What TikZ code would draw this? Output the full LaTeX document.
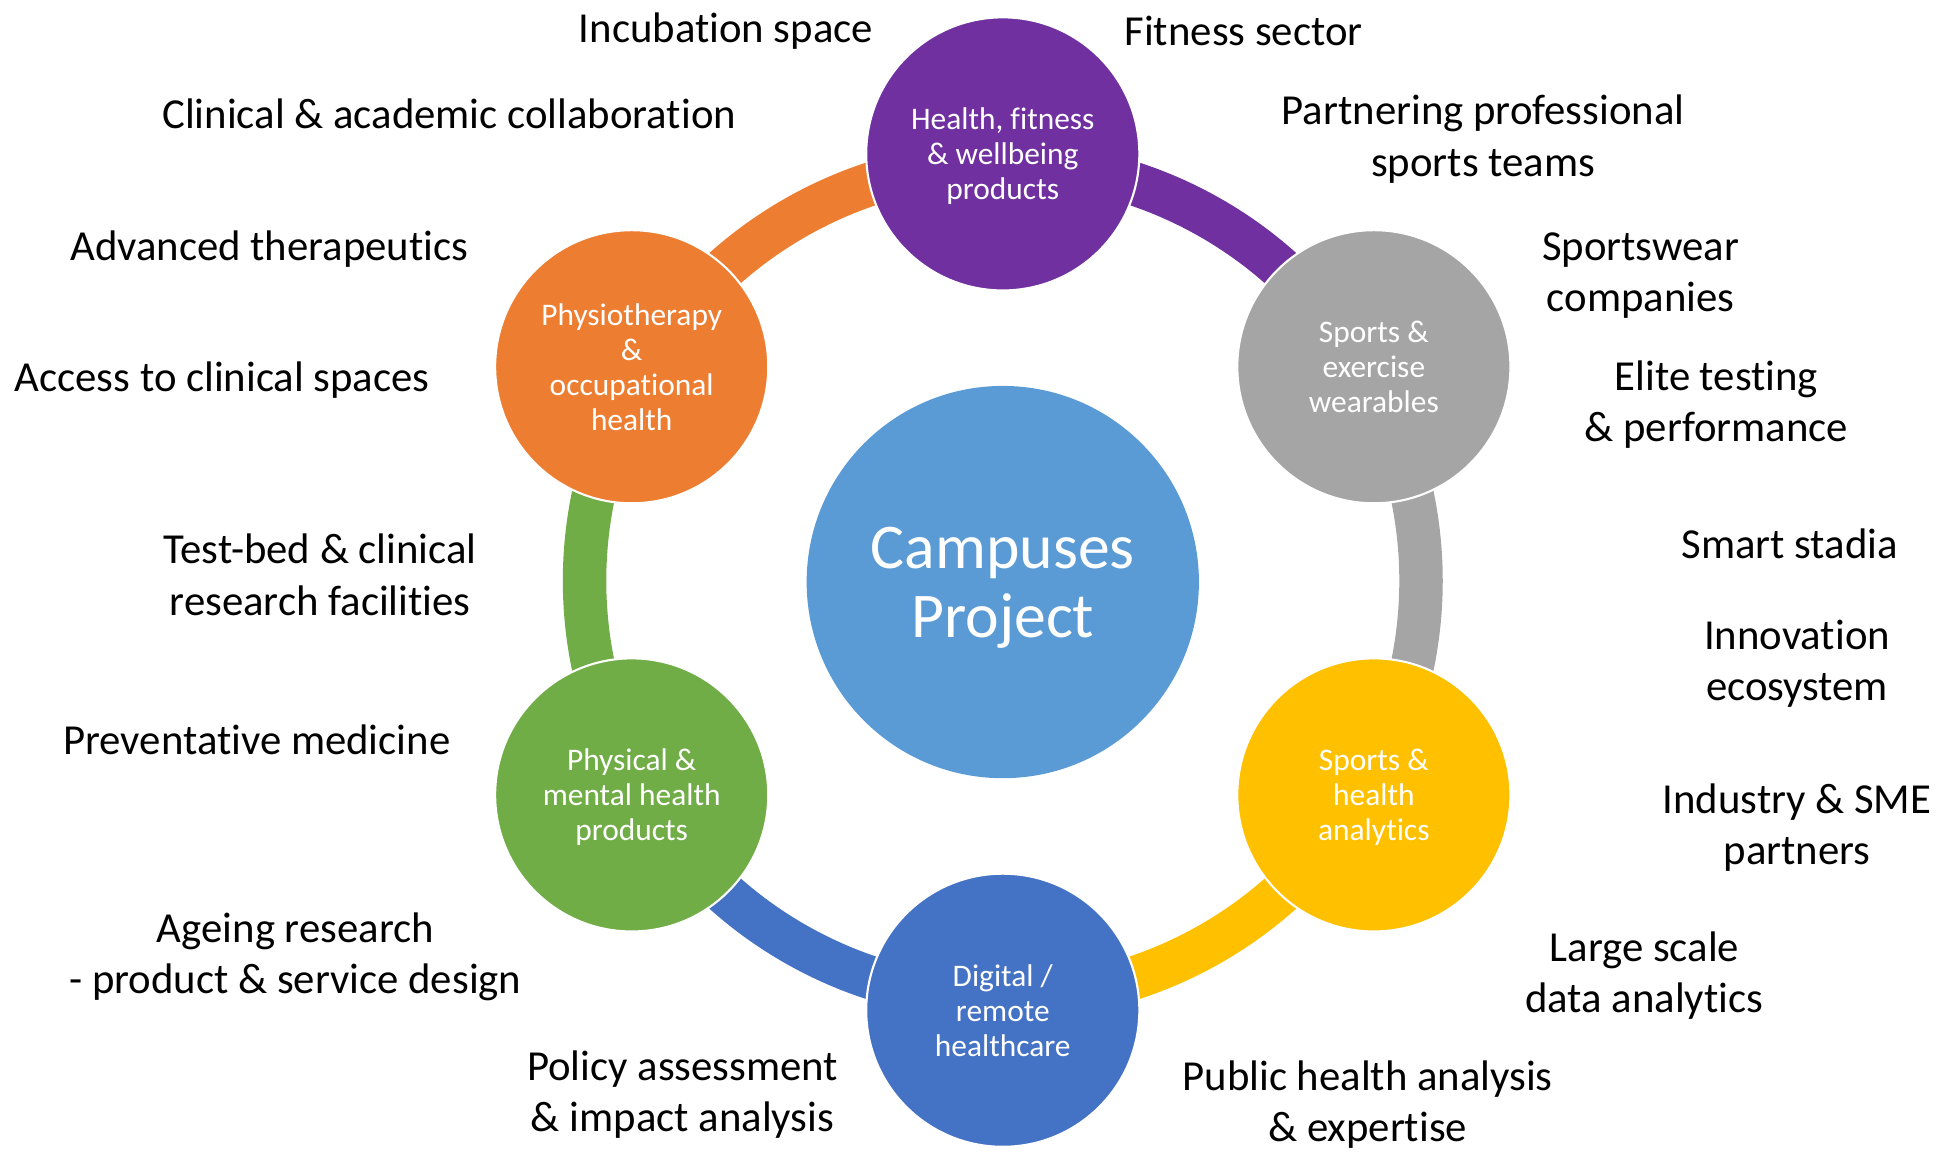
\documentclass[tikz,border=0pt]{standalone}
\usepackage{fontspec}
\setmainfont{Carlito}[Ligatures=NoCommon]
\usetikzlibrary{positioning}
\definecolor{cPurple}{HTML}{7030A0}
\definecolor{cGray}{HTML}{A5A5A5}
\definecolor{cYellow}{HTML}{FFC000}
\definecolor{cBlue}{HTML}{4472C4}
\definecolor{cGreen}{HTML}{70AD47}
\definecolor{cOrange}{HTML}{ED7D31}
\definecolor{cCentre}{HTML}{5B9BD5}

\begin{document}
\begin{tikzpicture}[x=0.025cm,y=0.025cm]
 \tikzset{hub/.style={circle,draw=white,line width=1.2pt,minimum size=5.5cm,inner sep=0pt,
   text=white,align=center,text depth=0pt,font=\fontsize{18}{20}\selectfont},
   band/.style={line width=0.875cm},
   lbl/.style={align=center,font=\fontsize{24.5}{29.5}\selectfont}}
 \useasboundingbox (0,0) rectangle (1568,-928);
 \coordinate (O) at (808,-468);

 % ring segments
 \draw[band,cOrange] (O) ++(140:337) arc[start angle=140,end angle=100,radius=337];
 \draw[band,cPurple] (O) ++(80:337) arc[start angle=80,end angle=40,radius=337];
 \draw[band,cGray] (O) ++(20:337) arc[start angle=20,end angle=-20,radius=337];
 \draw[band,cYellow] (O) ++(-40:337) arc[start angle=-40,end angle=-80,radius=337];
 \draw[band,cBlue] (O) ++(-100:337) arc[start angle=-100,end angle=-140,radius=337];
 \draw[band,cGreen] (O) ++(-160:337) arc[start angle=-160,end angle=-200,radius=337];

 \node[circle,fill=cCentre,minimum size=7.9cm,text=white,align=center,text depth=0pt,
   font=\fontsize{36.5}{39.8}\selectfont] (C) at (808,-469) {Campuses\\Project};
 \node[hub,fill=cPurple] (H) at (808,-124) {Health, fitness\\\& wellbeing\\products};
 \node[hub,fill=cGray] (W) at (1107,-295.5) {Sports \&\\exercise\\wearables};
 \node[hub,fill=cYellow] (A) at (1107,-640.5) {Sports \&\\health\\analytics};
 \node[hub,fill=cBlue] (D) at (808,-814) {Digital /\\remote\\healthcare};
 \node[hub,fill=cGreen] (P) at (509,-640.5) {Physical \&\\mental health\\products};
 \node[hub,fill=cOrange] (T) at (509,-295.5) {Physiotherapy\\\&\\occupational\\health};

 % outer labels
 \node[lbl] (l1) at (585,-25) {Incubation space};
 \node[lbl] (l2) at (1002,-25) {Fitness sector};
 \node[lbl] (l3) at (362,-92) {Clinical \& academic collaboration};
 \node[lbl] (l4) at (1195,-112) {Partnering professional\\sports teams};
 \node[lbl] (l5) at (217,-201) {Advanced therapeutics};
 \node[lbl] (l6) at (1322,-222) {Sportswear\\companies};
 \node[lbl] (l7) at (179,-306) {Access to clinical spaces};
 \node[lbl] (l8) at (1383,-326) {Elite testing\\\& performance};
 \node[lbl] (l9) at (258,-463) {Test-bed \& clinical\\research facilities};
 \node[lbl] (l10) at (1442,-438) {Smart stadia};
 \node[lbl] (l11) at (1448,-535) {Innovation\\ecosystem};
 \node[lbl] (l12) at (207,-596) {Preventative medicine};
 \node[lbl] (l13) at (1448,-667) {Industry \& SME\\partners};
 \node[lbl] (l14) at (238,-771) {Ageing research\\- product \& service design};
 \node[lbl] (l15) at (1325,-786) {Large scale\\data analytics};
 \node[lbl] (l16) at (550,-882) {Policy assessment\\\& impact analysis};
 \node[lbl] (l17) at (1102,-890) {Public health analysis\\\& expertise};
\end{tikzpicture}
\end{document}
